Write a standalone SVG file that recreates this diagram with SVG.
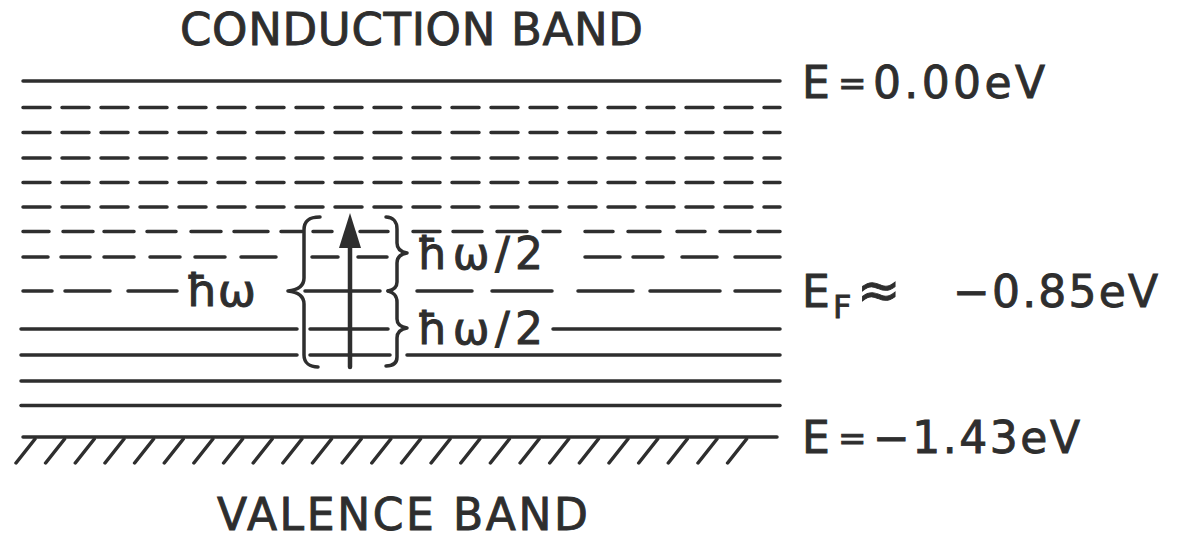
<svg xmlns="http://www.w3.org/2000/svg" width="1184" height="540" viewBox="0 0 1184 540">
<style>
.ln{stroke:#2e2e2e;stroke-width:3.5;stroke-linecap:round;fill:none}
.dsh{stroke-dasharray:27 12}
.br{stroke:#2e2e2e;stroke-width:3.5;fill:none;stroke-linecap:round;stroke-linejoin:round}
text{font-family:"DejaVu Sans","Liberation Sans",sans-serif;fill:#2e2e2e;stroke:#2e2e2e;stroke-width:0.9}
.big{font-size:45px}
.lab{font-size:44px}
</style>
<rect width="1184" height="540" fill="#ffffff"/>
<g id="levels">
<line class="ln" x1="23" y1="81" x2="780" y2="81"/>
<line class="ln dsh" x1="23" y1="107.5" x2="780" y2="107.5"/>
<line class="ln dsh" x1="23" y1="132.5" x2="780" y2="132.5"/>
<line class="ln dsh" x1="23" y1="158" x2="780" y2="158"/>
<line class="ln dsh" x1="23" y1="182.5" x2="780" y2="182.5"/>
<line class="ln dsh" x1="23" y1="207" x2="780" y2="207"/>
<path class="ln" d="M23,231.5H49M63,231.5H93M104,231.5H134M147,231.5H176M191,231.5H221M234,231.5H268M281,231.5H302M313,231.5H332M360,231.5H388M413,231.5H440M453,231.5H482M497,231.5H527M543,231.5H560M585,231.5H613M628,231.5H660M677,231.5H705M720,231.5H750M758,231.5H780"/>
<path class="ln" d="M23,257H48M61,257H90M104,257H134M150,257H180M195,257H225M241,257H276M312,257H338M358,257H387M585,257H620M633,257H663M682,257H717M735,257H780"/>
<path class="ln" d="M23,291H52M65,291H110M128,291H177M305,291H380M417,291H472M492,291H552M578,291H633M650,291H720M735,291H780"/>
<path class="ln" d="M21,329H297M310,329H388M553,329H780"/>
<path class="ln" d="M21,355H297M310,355H390M407,355H780"/>
<line class="ln" x1="21" y1="381" x2="780" y2="381"/>
<line class="ln" x1="21" y1="405.5" x2="780" y2="405.5"/>
</g>
<g id="valence-edge">
<line class="ln" x1="23" y1="437" x2="777" y2="437"/>
<path class="ln" d="M35,439L16,463M64.6,439L45.6,463M94.3,439L75.3,463M124,439L105,463M153.6,439L134.6,463M183.3,439L164.3,463M212.9,439L193.9,463M242.6,439L223.6,463M272.2,439L253.2,463M301.9,439L282.9,463M331.5,439L312.5,463M361.2,439L342.2,463M390.8,439L371.8,463M420.5,439L401.5,463M450.1,439L431.1,463M479.8,439L460.8,463M509.4,439L490.4,463M539.1,439L520.1,463M568.7,439L549.7,463M598.4,439L579.4,463M628,439L609,463M657.7,439L638.7,463M687.3,439L668.3,463M717,439L698,463M746.6,439L727.6,463"/>
</g>
<g id="connectors">
<path class="br" d="M320,217C310,217 304,220 304,230L304,278C304,286 297,290 288,291C297,292 304,296 304,304L304,355C304,363 310,367 318,367"/>
<path class="br" d="M386,217C393,217 397,222 397,229L397,243C397,249 401,252 407,253C401,254 397,257 397,263L397,282C397,288 393,290 388,291"/>
<path class="br" d="M388,291C393,292 397,296 397,302L397,319C397,325 401,327 407,328C401,329 397,332 397,338L397,357C397,363 393,366 386,366"/>
<line x1="350" y1="367" x2="350" y2="244" stroke="#2e2e2e" stroke-width="4.5" stroke-linecap="round"/>
<polygon points="350,213 339,248 361,248" fill="#2e2e2e"/>
</g>
<g id="conduction-label"><text class="big" x="180" y="45" textLength="463" lengthAdjust="spacing">CONDUCTION BAND</text></g>
<g id="valence-label"><text x="217" y="529.5" font-size="44" textLength="371" lengthAdjust="spacing">VALENCE BAND</text></g>
<g id="e0-label">
<text class="lab" x="802" y="98">E</text>
<text x="838" y="95" font-size="34">=</text>
<text class="lab" x="873" y="98" textLength="172" lengthAdjust="spacing">0.00eV</text>
</g>
<g id="ef-label">
<text class="lab" x="802" y="307">E</text>
<text x="833" y="318" font-size="32">F</text>
<text x="857" y="308" font-size="52">≈</text>
<text class="lab" x="953" y="307" textLength="205" lengthAdjust="spacing">−0.85eV</text>
</g>
<g id="ev-label">
<text class="lab" x="802" y="453">E</text>
<text x="838" y="450" font-size="34">=</text>
<text class="lab" x="873" y="453" textLength="207" lengthAdjust="spacing">−1.43eV</text>
</g>
<g id="hw-label"><text class="lab" x="186" y="306" textLength="70" lengthAdjust="spacingAndGlyphs">ħω</text></g>
<g id="hw2-upper"><text class="lab" x="417" y="269" textLength="126" lengthAdjust="spacing">ħω/2</text></g>
<g id="hw2-lower"><text class="lab" x="417" y="344" textLength="126" lengthAdjust="spacing">ħω/2</text></g>
</svg>
